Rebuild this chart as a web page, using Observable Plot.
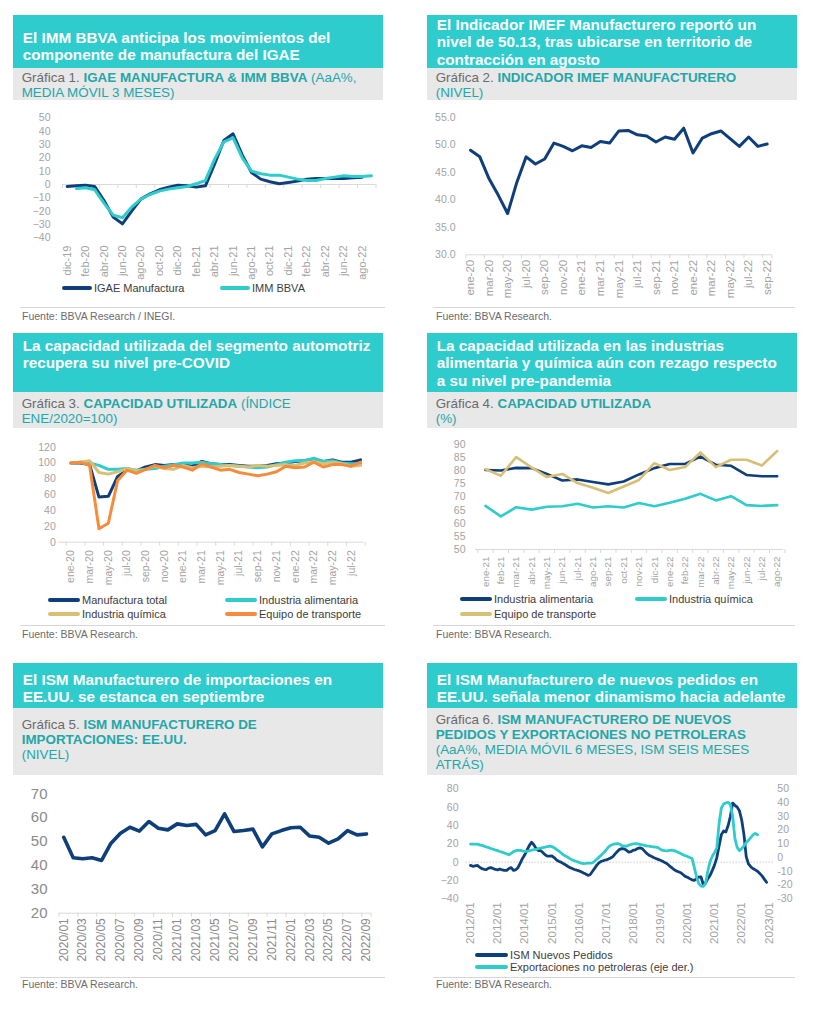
<!DOCTYPE html>
<html lang="es">
<head>
<meta charset="utf-8">
<script src="https://cdn.jsdelivr.net/npm/d3@7"></script>
<script src="https://cdn.jsdelivr.net/npm/@observablehq/plot@0.6"></script>
<style>
  body { margin: 0; background: #fff; font-family: "Liberation Sans", Arial, sans-serif; }
  #page { position: relative; width: 819px; height: 1024px; overflow: hidden; background: #fff; }
  .teal { position: absolute; background: #2ECCCD; color: #fff; font-weight: bold; font-size: 15.3px; line-height: 17.4px; white-space: nowrap; box-sizing: border-box; padding-left: 9.7px; }
  .gray { position: absolute; background: #E8E8E8; color: #22A7A8; font-size: 13.4px; line-height: 15px; white-space: nowrap; box-sizing: border-box; padding-left: 8.7px; }
  .gray .g { color: #6b6b6b; }
  .src { position: absolute; font-size: 10.5px; line-height: 12px; color: #6b6b6b; white-space: nowrap; }
  .rule { position: absolute; height: 1.5px; background: #d6d6d6; }
  .legtxt { position: absolute; font-size: 11px; line-height: 14px; color: #3c3c3c; white-space: nowrap; }
  .sw { position: absolute; }
  svg { overflow: visible; }
</style>
</head>
<body>
<div id="page"></div>
<script>
// ---------------- DATA ----------------
// Gráfica 1: dic-19 .. sep-22 (monthly)
const c1Labels = ["dic-19","feb-20","abr-20","jun-20","ago-20","oct-20","dic-20","feb-21","abr-21","jun-21","ago-21","oct-21","dic-21","feb-22","abr-22","jun-22","ago-22"];
const c1Igae = [-1.5,-1,-0.5,-1.5,-12,-24.5,-29.5,-20,-11,-7,-4,-2,-0.5,-1,-2,-1,15.5,33,38,22,9,4,2,0.5,1.5,2.5,4,4.5,4.5,4.5,4.5,5,5.5];
const c1Imm  = [null,-3,-2.5,-4,-14,-23,-25,-17,-11,-7.5,-5,-3.5,-2.5,-1.5,0.5,3,19,32,35,20,10,8,7,7,5.5,4,3,3,4.5,5.5,6.5,6,6,6.5];

// Gráfica 2: ene-20 .. sep-22
const c2Labels = ["ene-20","mar-20","may-20","jul-20","sep-20","nov-20","ene-21","mar-21","may-21","jul-21","sep-21","nov-21","ene-22","mar-22","may-22","jul-22","sep-22"];
const c2Imef = [49.0,47.8,43.8,40.8,37.5,43.2,47.8,46.5,47.4,50.3,49.7,48.9,49.8,49.5,50.6,50.3,52.5,52.6,51.8,51.6,50.5,51.4,51.0,53.0,48.5,51.2,52.0,52.5,51.1,49.7,51.4,49.7,50.13];

// Gráfica 3: ene-20 .. ago-22
const c3Labels = ["ene-20","mar-20","may-20","jul-20","sep-20","nov-20","ene-21","mar-21","may-21","jul-21","sep-21","nov-21","ene-22","mar-22","may-22","jul-22"];
const c3Manuf = [100,100,98,57,58,83,91,90,95,98,97,98,98,96,102,99,98,98,97,96,96,97,99,100,102,103,105,102,104,101,101,104];
const c3Alim  = [100,101,100,97,92,92,93,91,92,93,96,98,100,100,101,99,98,97,96,95,94,95,98,101,103,103,106,102,103,100,99,99];
const c3Quim  = [100,101,103,88,86,89,93,90,92,96,93,92,97,94,96,95,96,97,96,95,97,96,97,98,97,100,102,99,101,99,96,97];
const c3Trans = [100,101,97,17,24,78,91,87,92,97,94,97,95,91,99,95,91,92,88,86,84,86,89,96,94,95,101,95,98,98,96,101];

// Gráfica 4: ene-21 .. ago-22
const c4Labels = ["ene-21","feb-21","mar-21","abr-21","may-21","jun-21","jul-21","ago-21","sep-21","oct-21","nov-21","dic-21","ene-22","feb-22","mar-22","abr-22","may-22","jun-22","jul-22","ago-22"];
const c4Alim  = [80.3,80.1,81.1,81.0,78.8,76.3,76.7,75.7,74.8,75.9,78.6,81.0,82.6,82.6,85.4,82.3,81.9,78.4,77.9,77.9];
const c4Quim  = [66.6,62.6,66.1,65.2,66.3,66.5,67.4,66.0,66.5,66.0,67.7,66.5,67.8,69.3,71.2,68.7,70.3,66.9,66.6,66.9];
const c4Trans = [80.6,78.1,85.2,81.3,77.6,78.8,75.3,73.5,71.5,74.0,76.5,82.9,80.3,81.4,87.0,81.4,84.2,84.2,82.0,87.5];

// Gráfica 5: 2020/01 .. 2022/09
const c5Labels = ["2020/01","2020/03","2020/05","2020/07","2020/09","2020/11","2021/01","2021/03","2021/05","2021/07","2021/09","2021/11","2022/01","2022/03","2022/05","2022/07","2022/09"];
const c5Ism = [51.8,43.2,42.8,43.2,42.1,49.3,53.5,56.0,54.4,58.4,55.6,54.9,
               57.4,56.7,57.2,52.8,54.6,61.6,54.2,54.6,55.2,47.8,53.2,54.6,
               55.8,56.0,52.3,51.8,49.3,51.1,54.6,52.8,53.2];

// Gráfica 6: monthly from 2012/01
const c6Labels = ["2012/01","2012/01","2014/01","2015/01","2016/01","2017/01","2018/01","2019/01","2020/01","2021/01","2022/01","2023/01"];
const c6Ism = [
  -3.6,-4.5,-4,-3.6,-5.5,-7,-7.8,-8.2,-6.5,-6,-7,-8,
  -8.4,-7.5,-8.5,-9,-9,-7,-6,-9,-8.4,-6,-1,4,
  8,13,18,21.8,19,15,12.7,12.7,10.5,8,6.5,6.5,
  6.9,5,2.5,1,0,-1.5,-2.9,-4.5,-6,-7,-8,-8.8,
  -9.5,-10.5,-11.8,-13,-14.5,-13.5,-10,-6.5,-3,-0.5,1,1.8,
  2.5,3.3,4.5,6,9,11.5,14,14.8,14.5,13,11,11.5,
  13,13.5,15,15.5,14.8,12,9.5,7.5,6.3,5,4,3,
  2,1,-0.5,-1.8,-4,-6,-8,-9.5,-10.5,-11.5,-13.5,-15.5,
  -16.5,-18,-19.3,-20,-18,-16.4,-16,-24.4,-23,-18,-14.5,-9,
  -3,5,18,30,34,33,40,50,64.4,62,60,56,
  46,30,6,-2,-5,-7,-8.5,-10,-12.5,-15,-18.5,-22];
const c6Exp = [
  9.8,9.8,9.8,9.8,9.2,8.8,8.3,7.7,7.2,6.6,6.1,5.5,
  5,4.4,3.9,3.3,2.6,2,3,4.3,5,5.3,5.2,4.8,
  4.4,4.6,4.9,5.3,5.7,6,6.5,6.9,7.3,7.6,8,8.3,
  8,7.2,6,4.8,3.5,2.1,1.2,0.2,-0.8,-1.7,-2.3,-2.9,
  -3.5,-4,-4.4,-4.3,-4.1,-4,-3.8,-2.5,-1,0.5,2,3.7,
  5.5,7.6,8.8,9.6,10,10.2,9.8,8.6,8.5,8.2,9,9.5,
  9.9,10.1,10,9.6,9.3,8.8,8.5,8.3,8,7.8,7.6,7.3,
  6,5.2,5,4.9,5.2,5.4,5,4.5,3.7,2.9,2.1,1.3,
  0.8,0,-0.5,-7,-14,-19,-20.8,-21,-19,-10,-3,1,
  3.7,7,25,36,39,39.8,40.2,38.5,30,14,7.3,5,
  6.5,8.5,11,12.5,14.5,16.5,17.6,16.6];
const c6LeftTicks = [-40,-20,0,20,40,60,80];
const c6RightTicks = [-30,-20,-10,0,10,20,30,40,50];

// ---------------- STYLE ----------------
const FONT = "Liberation Sans, Arial, sans-serif";
const NAVY = "#0E3F7A", CYAN = "#2ECCCD", TAN = "#D8BF76", ORANGE = "#F68B3C";
const AXIS = "#d9d9d9";
const page = document.getElementById("page");
const idx = arr => arr.map((v, i) => ({i, v}));

function place(svg, left, top) {
  svg.style.position = "absolute";
  svg.style.left = left + "px";
  svg.style.top = top + "px";
  svg.style.overflow = "visible";
  page.appendChild(svg);
}
function box(cls, x, y, w, h, pt, html) {
  const d = document.createElement("div");
  d.className = cls;
  Object.assign(d.style, {left: x + "px", top: y + "px", width: w + "px", height: h + "px", paddingTop: pt + "px"});
  d.innerHTML = html;
  page.appendChild(d);
}
function src(x, y, t) { const d = document.createElement("div"); d.className = "src"; d.style.left = x + "px"; d.style.top = y + "px"; d.textContent = t; page.appendChild(d); }
function rule(x, y, w) { const d = document.createElement("div"); d.className = "rule"; d.style.left = x + "px"; d.style.top = y + "px"; d.style.width = w + "px"; page.appendChild(d); }
function legendItem(x, y, color, label, sw = 32, th = 4) {
  const s = document.createElement("div"); s.className = "sw";
  Object.assign(s.style, {left: x + "px", top: (y - th / 2) + "px", width: sw + "px", height: th + "px", background: color, borderRadius: (th / 2) + "px"});
  page.appendChild(s);
  const t = document.createElement("div"); t.className = "legtxt";
  t.style.left = (x + sw + 2) + "px"; t.style.top = (y - 7.5) + "px"; t.textContent = label;
  page.appendChild(t);
}
const baseStyle = (c) => ({fontFamily: FONT, color: c, background: "transparent", overflow: "visible"});

// ---------------- HEADERS ----------------
box("teal", 13, 15, 370, 53, 14, "El IMM BBVA anticipa los movimientos del<br>componente de manufactura del IGAE");
box("teal", 427, 15, 370, 53, 1, "El Indicador IMEF Manufacturero reportó un<br>nivel de 50.13, tras ubicarse en territorio de<br>contracción en agosto");
box("gray", 13, 68, 370, 32, 2.3, '<span class="g">Gráfica 1. </span><b>IGAE MANUFACTURA &amp; IMM BBVA</b> (AaA%,<br>MEDIA MÓVIL 3 MESES)');
box("gray", 427, 68, 370, 32, 2.3, '<span class="g">Gráfica 2. </span><b>INDICADOR IMEF MANUFACTURERO</b><br>(NIVEL)');

box("teal", 13, 333, 370, 59, 4, "La capacidad utilizada del segmento automotriz<br>recupera su nivel pre-COVID");
box("teal", 427, 333, 370, 59, 4, "La capacidad utilizada en las industrias<br>alimentaria y química aún con rezago respecto<br>a su nivel pre-pandemia");
box("gray", 13, 392, 370, 36, 4, '<span class="g">Gráfica 3. </span><b>CAPACIDAD UTILIZADA</b> (ÍNDICE<br>ENE/2020=100)');
box("gray", 427, 392, 370, 36, 4, '<span class="g">Gráfica 4. </span><b>CAPACIDAD UTILIZADA</b><br>(%)');

box("teal", 13, 663, 370, 45, 8, "El ISM Manufacturero de importaciones en<br>EE.UU. se estanca en septiembre");
box("teal", 427, 663, 370, 45, 8, "El ISM Manufacturero de nuevos pedidos en<br>EE.UU. señala menor dinamismo hacia adelante");
box("gray", 13, 708, 370, 67, 9, '<span class="g">Gráfica 5. </span><b>ISM MANUFACTURERO DE<br>IMPORTACIONES: EE.UU.</b><br>(NIVEL)');
box("gray", 427, 708, 370, 67, 4, '<span class="g">Gráfica 6. </span><b>ISM MANUFACTURERO DE NUEVOS<br>PEDIDOS Y EXPORTACIONES NO PETROLERAS</b><br>(AaA%, MEDIA MÓVIL 6 MESES, ISM SEIS MESES<br>ATRÁS)');

// ---------------- CHART 1 ----------------
place(Plot.plot({
  width: 400, height: 185, marginLeft: 62, marginRight: 24.5, marginTop: 17.3, marginBottom: 47.7,
  style: baseStyle("#a3a3a3"),
  x: {domain: [-0.5, 33.5]},
  y: {domain: [-40, 50]},
  marks: [
    Plot.ruleY([0], {stroke: AXIS}),
    Plot.ruleX(c1Labels.map((d, k) => 2 * k - 0.5).concat([33.5]), {x: d => d, y1: 0, y2: -3, stroke: AXIS}),
    Plot.axisY(d3.range(-40, 51, 10), {label: null, tickSize: 0, tickPadding: 12, fontSize: 10.5}),
    Plot.axisX(c1Labels.map((d, k) => 2 * k), {label: null, tickSize: 0, tickPadding: 7.7, tickRotate: -90, tickFormat: d => c1Labels[d / 2], fontSize: 11}),
    Plot.line(idx(c1Igae), {x: "i", y: "v", stroke: NAVY, strokeWidth: 3}),
    Plot.line(idx(c1Imm), {x: "i", y: "v", stroke: CYAN, strokeWidth: 3})
  ]
}), 0, 100);
legendItem(62, 288, NAVY, "IGAE Manufactura", 30);
legendItem(220, 288, CYAN, "IMM BBVA", 30);
rule(20, 306.5, 365);
src(22, 310, "Fuente: BBVA Research / INEGI.");

// ---------------- CHART 2 ----------------
place(Plot.plot({
  width: 409, height: 200, marginLeft: 55.4, marginRight: 47.7, marginTop: 16.7, marginBottom: 45.7,
  style: baseStyle("#a3a3a3"),
  x: {domain: [-0.5, 32.5]},
  y: {domain: [30, 55]},
  marks: [
    Plot.ruleY([30], {stroke: AXIS}),
    Plot.ruleX(c2Labels.map((d, k) => 2 * k - 0.5).concat([32.5]), {x: d => d, y1: 30, y2: 29.3, stroke: AXIS}),
    Plot.axisY(d3.range(30, 56, 5), {label: null, tickSize: 0, tickPadding: 10.4, tickFormat: d3.format(".1f"), fontSize: 10.5}),
    Plot.axisX(c2Labels.map((d, k) => 2 * k), {label: null, tickSize: 0, tickPadding: 5, tickRotate: -90, tickFormat: d => c2Labels[d / 2], fontSize: 11.5}),
    Plot.line(idx(c2Imef), {x: "i", y: "v", stroke: NAVY, strokeWidth: 3})
  ]
}), 410, 100);
rule(433, 306.5, 362);
src(436, 310, "Fuente: BBVA Research.");

// ---------------- CHART 3 ----------------
place(Plot.plot({
  width: 400, height: 170, marginLeft: 58.3, marginRight: 36.7, marginTop: 16.7, marginBottom: 58.3,
  style: baseStyle("#a3a3a3"),
  x: {domain: [-1.3, 31.35]},
  y: {domain: [0, 120]},
  marks: [
    Plot.ruleY([0], {stroke: AXIS}),
    Plot.ruleX(c3Labels.map((d, k) => 2 * k - 0.5).concat([31.5]), {x: d => d, y1: 0, y2: -5, stroke: AXIS}),
    Plot.axisY(d3.range(0, 121, 20), {label: null, tickSize: 0, tickPadding: 3, fontSize: 10.5}),
    Plot.axisX(c3Labels.map((d, k) => 2 * k), {label: null, tickSize: 0, tickPadding: 8, tickRotate: -90, tickFormat: d => c3Labels[d / 2], fontSize: 10.5}),
    Plot.line(idx(c3Manuf), {x: "i", y: "v", stroke: NAVY, strokeWidth: 3}),
    Plot.line(idx(c3Alim), {x: "i", y: "v", stroke: CYAN, strokeWidth: 3}),
    Plot.line(idx(c3Quim), {x: "i", y: "v", stroke: TAN, strokeWidth: 3}),
    Plot.line(idx(c3Trans), {x: "i", y: "v", stroke: ORANGE, strokeWidth: 3})
  ]
}), 0, 430);
legendItem(48, 600, NAVY, "Manufactura total");
legendItem(225, 600, CYAN, "Industria alimentaria");
legendItem(48, 614, TAN, "Industria química");
legendItem(225, 614, ORANGE, "Equipo de transporte");
rule(20, 624.5, 365);
src(22, 628, "Fuente: BBVA Research.");

// ---------------- CHART 4 ----------------
place(Plot.plot({
  width: 409, height: 170, marginLeft: 65, marginRight: 35.7, marginTop: 14, marginBottom: 51,
  style: baseStyle("#a3a3a3"),
  x: {domain: [-0.65, 19.43]},
  y: {domain: [50, 90]},
  marks: [
    Plot.ruleY([50], {stroke: AXIS}),
    Plot.ruleX(d3.range(0, 21).map(k => k - 0.5), {x: d => d, y1: 50, y2: 48.5, stroke: AXIS}),
    Plot.axisY(d3.range(50, 91, 5), {label: null, tickSize: 0, tickPadding: 10, fontSize: 10.5}),
    Plot.axisX(d3.range(0, 20), {label: null, tickSize: 0, tickPadding: 7, tickRotate: -90, tickFormat: d => c4Labels[d], fontSize: 9.8}),
    Plot.line(idx(c4Alim), {x: "i", y: "v", stroke: NAVY, strokeWidth: 2.6}),
    Plot.line(idx(c4Quim), {x: "i", y: "v", stroke: CYAN, strokeWidth: 2.6}),
    Plot.line(idx(c4Trans), {x: "i", y: "v", stroke: TAN, strokeWidth: 2.6})
  ]
}), 410, 430);
legendItem(460, 599, NAVY, "Industria alimentaria");
legendItem(635, 599, CYAN, "Industria química");
legendItem(460, 614, TAN, "Equipo de transporte");
rule(433, 624.5, 362);
src(436, 628, "Fuente: BBVA Research.");

// ---------------- CHART 5 ----------------
place(Plot.plot({
  width: 400, height: 200, marginLeft: 58.5, marginRight: 29.3, marginTop: 18.3, marginBottom: 62.3,
  style: baseStyle("#8a8a8a"),
  x: {domain: [-0.5, 32.5]},
  y: {domain: [20, 70]},
  marks: [
    Plot.ruleY([20], {stroke: AXIS}),
    Plot.ruleX(c5Labels.map((d, k) => 2 * k - 0.5).concat([32.5]), {x: d => d, y1: 20, y2: 18.3, stroke: AXIS}),
    Plot.axisY(d3.range(20, 71, 10), {label: null, tickSize: 0, tickPadding: 11.5, fontSize: 15}),
    Plot.axisX(c5Labels.map((d, k) => 2 * k), {label: null, tickSize: 0, tickPadding: 5, tickRotate: -90, tickFormat: d => c5Labels[d / 2], fontSize: 12}),
    Plot.line(idx(c5Ism), {x: "i", y: "v", stroke: NAVY, strokeWidth: 3.6})
  ]
}), 0, 775);
rule(20, 976.5, 365);
src(22, 977.5, "Fuente: BBVA Research.");

// ---------------- CHART 6 ----------------
const toLeft = r => -40 + (r + 30) * 1.5;      // right axis [-30,50] -> left axis [-40,80]
const fromLeft = l => (l + 40) / 1.5 - 30;
place(Plot.plot({
  width: 409, height: 200, marginLeft: 55.48, marginRight: 46.16, marginTop: 8.3, marginBottom: 81.7,
  style: baseStyle("#a3a3a3"),
  x: {domain: [-2, 134]},
  y: {domain: [-40, 80]},
  marks: [
    Plot.ruleY([0], {stroke: "#c9c9c9", strokeDasharray: "1.5,1.5"}),
    Plot.axisY(c6LeftTicks, {label: null, anchor: "left", tickSize: 0, tickPadding: 7.5, fontSize: 10.5}),
    Plot.axisY(c6RightTicks.map(toLeft), {label: null, anchor: "right", tickSize: 0, tickPadding: 4, tickFormat: d => Math.round(fromLeft(d)), fontSize: 10.5}),
    Plot.axisX(c6Labels.map((d, k) => 12 * k), {label: null, tickSize: 0, tickPadding: 3.5, tickRotate: -90, tickFormat: d => c6Labels[d / 12], fontSize: 11.5}),
    Plot.line(idx(c6Ism), {x: "i", y: "v", stroke: NAVY, strokeWidth: 2.8}),
    Plot.line(idx(c6Exp), {x: "i", y: d => toLeft(d.v), stroke: CYAN, strokeWidth: 2.8})
  ]
}), 410, 780);
legendItem(475, 955, NAVY, "ISM Nuevos Pedidos", 33);
legendItem(475, 967, CYAN, "Exportaciones no petroleras (eje der.)", 33);
rule(433, 976.5, 362);
src(436, 977.5, "Fuente: BBVA Research.");
</script>
</body>
</html>
